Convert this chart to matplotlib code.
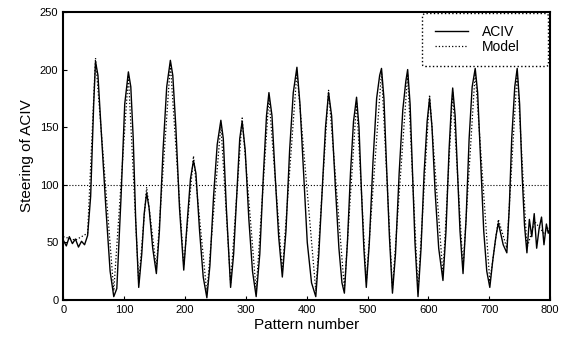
import matplotlib.pyplot as plt

# ACIV steering (pattern number, steering)
aciv_x = [0, 5, 10, 15, 20, 25, 30, 35, 40, 45, 50, 53, 57, 62, 70, 77, 83, 88, 95, 101,
          107, 111, 115, 119, 124, 129, 133, 137, 141, 147, 153, 158, 164, 170, 176, 180,
          185, 191, 198, 204, 209, 214, 218, 224, 230, 236, 241, 247, 253, 259, 263, 268,
          275, 280, 286, 290, 294, 299, 305, 311, 317, 323, 329, 334, 338, 343, 348, 354,
          360, 366, 372, 378, 384, 389, 395, 401, 408, 415, 420, 426, 431, 436, 441, 447,
          453, 458, 462, 467, 472, 477, 482, 486, 490, 494, 498, 503, 509, 515, 520, 523,
          527, 531, 536, 541, 546, 552, 558, 563, 566, 570, 574, 578, 583, 588, 593, 598,
          602, 606, 611, 617, 624, 629, 634, 638, 640, 644, 648, 652, 657, 662, 667, 672,
          677, 681, 686, 691, 696, 701, 706, 711, 715, 718, 723, 729, 733, 737, 742, 746,
          750, 754, 758, 762, 766, 770, 774, 778, 782, 786, 790, 794, 797, 800]
aciv_y = [52, 47, 55, 49, 53, 46, 51, 48, 56, 90, 170, 207, 195, 150, 80, 25, 3, 10, 90, 170,
          198, 185, 140, 70, 11, 40, 75, 93, 80, 45, 23, 60, 130, 185, 208, 195,
          150, 80, 26, 70, 105, 121, 110, 60, 20, 2, 30, 90, 135, 156, 140, 80,
          11, 40, 100, 140, 155, 130, 70, 25, 3, 40, 110, 160, 180, 160, 110, 55,
          20, 60, 130, 180, 202, 170, 110, 50, 15, 3, 40, 100, 150, 180, 160, 100,
          45, 15, 6, 50, 110, 155, 176, 150, 95, 45, 11, 50, 120, 175, 195, 201,
          175, 120, 55, 6, 40, 110, 165, 190, 200, 170, 110, 50, 3, 45, 110, 155,
          175, 150, 95, 45, 17, 60, 130, 170, 184, 160, 110, 60, 23, 70, 140, 185,
          201, 180, 120, 60, 25, 11, 35, 55, 67, 60, 48, 41, 80, 140, 185, 201,
          170, 110, 65, 41, 70, 55, 75, 45, 62, 72, 48, 66, 58, 62]

# model output (dotted), at its turning points
model_x = [0, 20, 40, 53, 83, 107, 124, 137, 153, 176, 198, 214, 236, 259, 275, 294, 317,
           338, 360, 384, 415, 436, 462, 482, 498, 523, 541, 566, 583, 602, 624, 640, 657,
           677, 701, 715, 729, 746, 762, 775, 790, 800]
model_y = [55, 52, 58, 210, 8, 195, 15, 98, 28, 205, 30, 125, 6, 152, 15, 158, 8,
           176, 25, 198, 8, 182, 10, 172, 16, 198, 10, 196, 8, 178, 22, 180, 28,
           198, 16, 70, 45, 198, 45, 68, 58, 65]

x_ticks = [0, 100, 200, 300, 400, 500, 600, 700, 800]
y_ticks = [0, 50, 100, 150, 200, 250]

plt.rcParams['font.family'] = ['Liberation Sans', 'DejaVu Sans']

fig = plt.figure(figsize=(5.7, 3.41), dpi=100)
ax = fig.add_axes([0.111, 0.12, 0.854, 0.845])

ax.axhline(100, color='black', linestyle=':', linewidth=0.8)
ax.plot(aciv_x, aciv_y, color='black', linewidth=1.0, label='ACIV')
ax.plot(model_x, model_y, color='black', linestyle=':', linewidth=0.9, label='Model')

ax.set_xlim(0, 800)
ax.set_ylim(0, 250)
ax.set_xticks(x_ticks)
ax.set_yticks(y_ticks)
ax.tick_params(direction='in', length=3, labelsize=8)
for s in ax.spines.values():
    s.set_linewidth(1.5)

ax.set_xlabel('Pattern number', fontsize=11, labelpad=2)
ax.set_ylabel('Steering of ACIV', fontsize=11)

# wide legend box in the upper right corner
leg = ax.legend(loc='upper right', bbox_to_anchor=(0.737, 0, 0.258, 0.997), mode='expand',
                borderaxespad=0, fontsize=10, fancybox=True, handlelength=2.4,
                handletextpad=1.0, labelspacing=0.05, borderpad=0.9)
leg.get_frame().set_edgecolor('black')
leg.get_frame().set_linestyle(':')
leg.get_frame().set_alpha(1)

fig.savefig('out.png', dpi=100)
